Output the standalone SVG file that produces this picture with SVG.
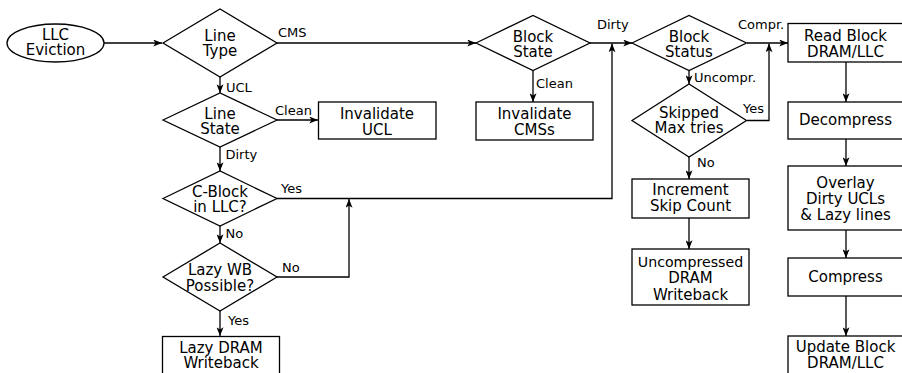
<svg xmlns="http://www.w3.org/2000/svg" width="902" height="373" viewBox="0 0 902 373">
  <style>
    .shape { fill: #ffffff; stroke: #000000; stroke-width: 1.3; }
    .txt { font-family: "DejaVu Sans", sans-serif; font-size: 15px; fill: #000000; text-anchor: middle; }
    .lbl { font-family: "DejaVu Sans", sans-serif; font-size: 13px; fill: #000000; }
    .edge { fill: none; stroke: #000000; stroke-width: 1.3; marker-end: url(#arrow); }
  </style>
  <defs>
    <marker id="arrow" viewBox="0 0 10 8" refX="10" refY="4" markerWidth="10" markerHeight="7" markerUnits="userSpaceOnUse" orient="auto">
      <path d="M0,0 L10,4 L0,8 L2.5,4 Z" fill="#000000"/>
    </marker>
  </defs>
  <rect width="902" height="373" fill="#ffffff"/>

  <!-- connectors -->
  <g id="connectors">
    <path class="edge" d="M104,43 H162"/>
    <path class="edge" d="M277,43 H476"/>
    <path class="edge" d="M220,77 V93"/>
    <path class="edge" d="M277,120 H318"/>
    <path class="edge" d="M220,147 V171"/>
    <path class="edge" d="M277,198.5 H612 V43.5"/>
    <path class="edge" d="M220,226 V243"/>
    <path class="edge" d="M277,277 H349 V199"/>
    <path class="edge" d="M220,311 V336"/>
    <path class="edge" d="M533,70.5 V102"/>
    <path class="edge" d="M590,43 H632"/>
    <path class="edge" d="M747,43 H788"/>
    <path class="edge" d="M689,70.5 V84"/>
    <path class="edge" d="M747,120.5 H769 V43.5"/>
    <path class="edge" d="M689,157 V179"/>
    <path class="edge" d="M689,218 V249"/>
    <path class="edge" d="M846,62 V102"/>
    <path class="edge" d="M846,139 V166"/>
    <path class="edge" d="M846,230 V258"/>
    <path class="edge" d="M846,296 V336"/>

    <!-- branch labels -->
    <text class="lbl" x="278" y="37">CMS</text>
    <text class="lbl" x="226" y="91.5">UCL</text>
    <text class="lbl" x="275" y="115">Clean</text>
    <text class="lbl" x="225.5" y="159">Dirty</text>
    <text class="lbl" x="281" y="193">Yes</text>
    <text class="lbl" x="225.5" y="238">No</text>
    <text class="lbl" x="282" y="272">No</text>
    <text class="lbl" x="228" y="325">Yes</text>
    <text class="lbl" x="536" y="88">Clean</text>
    <text class="lbl" x="597" y="29">Dirty</text>
    <text class="lbl" x="738" y="29">Compr.</text>
    <text class="lbl" x="694" y="82">Uncompr.</text>
    <text class="lbl" x="743" y="113">Yes</text>
    <text class="lbl" x="697" y="166.5">No</text>
  </g>

  <!-- left column -->
  <g id="llc-eviction">
    <ellipse class="shape" cx="55.5" cy="43" rx="48.5" ry="19"/>
    <text class="txt" x="55.5" y="39.5">LLC</text>
    <text class="txt" x="55.5" y="55">Eviction</text>
  </g>
  <g id="line-type">
    <polygon class="shape" points="163,43 220,9 277,43 220,77"/>
    <text class="txt" x="220" y="40.5">Line</text>
    <text class="txt" x="220" y="56">Type</text>
  </g>
  <g id="line-state">
    <polygon class="shape" points="163,120 220,93 277,120 220,147"/>
    <text class="txt" x="220" y="118.5">Line</text>
    <text class="txt" x="220" y="134">State</text>
  </g>
  <g id="invalidate-ucl">
    <rect class="shape" x="318.5" y="102" width="117.5" height="37"/>
    <text class="txt" x="377" y="119">Invalidate</text>
    <text class="txt" x="377" y="134.5">UCL</text>
  </g>
  <g id="c-block-in-llc">
    <polygon class="shape" points="163,198.5 220,171 277,198.5 220,226"/>
    <text class="txt" x="220" y="196.5">C-Block</text>
    <text class="txt" x="220" y="212">in LLC?</text>
  </g>
  <g id="lazy-wb-possible">
    <polygon class="shape" points="163,277 220,243 277,277 220,311"/>
    <text class="txt" x="220" y="275">Lazy WB</text>
    <text class="txt" x="220" y="290.5">Possible?</text>
  </g>
  <g id="lazy-dram-writeback">
    <rect class="shape" x="162.5" y="336.5" width="117" height="45"/>
    <text class="txt" x="221" y="352.5">Lazy DRAM</text>
    <text class="txt" x="221" y="368">Writeback</text>
  </g>

  <!-- middle column -->
  <g id="block-state">
    <polygon class="shape" points="476,43 533,15.5 590,43 533,70.5"/>
    <text class="txt" x="533" y="41.5">Block</text>
    <text class="txt" x="533" y="57">State</text>
  </g>
  <g id="invalidate-cmss">
    <rect class="shape" x="476" y="102" width="117" height="38"/>
    <text class="txt" x="534.5" y="119">Invalidate</text>
    <text class="txt" x="534.5" y="134.5">CMSs</text>
  </g>
  <g id="block-status">
    <polygon class="shape" points="632,43 689,15.5 746.5,43 689,70.5"/>
    <text class="txt" x="689" y="41.5">Block</text>
    <text class="txt" x="689" y="57">Status</text>
  </g>
  <g id="skipped-max-tries">
    <polygon class="shape" points="632,120.5 689,84 746.5,120.5 689,157"/>
    <text class="txt" x="689" y="117.5">Skipped</text>
    <text class="txt" x="689" y="133">Max tries</text>
  </g>
  <g id="increment-skip-count">
    <rect class="shape" x="632" y="179" width="117" height="39"/>
    <text class="txt" x="690.5" y="195">Increment</text>
    <text class="txt" x="690.5" y="211">Skip Count</text>
  </g>
  <g id="uncompressed-writeback">
    <rect class="shape" x="632" y="249" width="117" height="56"/>
    <text class="txt" x="690.5" y="266.5" style="font-size:14.2px">Uncompressed</text>
    <text class="txt" x="690.5" y="283">DRAM</text>
    <text class="txt" x="690.5" y="299.5">Writeback</text>
  </g>

  <!-- right column -->
  <g id="read-block">
    <rect class="shape" x="788" y="23.5" width="115" height="38.5"/>
    <text class="txt" x="845.5" y="41">Read Block</text>
    <text class="txt" x="845.5" y="56.5">DRAM/LLC</text>
  </g>
  <g id="decompress">
    <rect class="shape" x="788" y="102" width="115" height="37"/>
    <text class="txt" x="845.5" y="125">Decompress</text>
  </g>
  <g id="overlay">
    <rect class="shape" x="788" y="166" width="115" height="64"/>
    <text class="txt" x="845.5" y="188">Overlay</text>
    <text class="txt" x="845.5" y="204">Dirty UCLs</text>
    <text class="txt" x="845.5" y="220">&amp; Lazy lines</text>
  </g>
  <g id="compress">
    <rect class="shape" x="788" y="258" width="115" height="38"/>
    <text class="txt" x="845.5" y="282">Compress</text>
  </g>
  <g id="update-block">
    <rect class="shape" x="788" y="336" width="115" height="45"/>
    <text class="txt" x="845.5" y="352">Update Block</text>
    <text class="txt" x="845.5" y="367.5">DRAM/LLC</text>
  </g>
</svg>
